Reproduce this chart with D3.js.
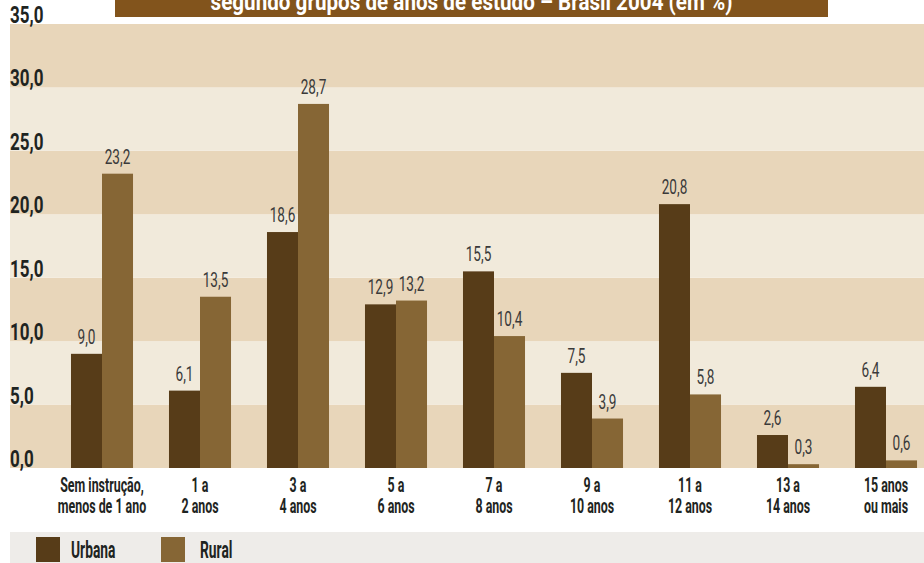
<!DOCTYPE html>
<html lang="pt">
<head>
<meta charset="utf-8">
<script src="https://cdn.jsdelivr.net/npm/d3@7"></script>
<style>
  html, body { margin: 0; padding: 0; background: #ffffff; }
  svg { display: block; font-family: Roboto, "Noto Sans", "DejaVu Sans", sans-serif; }
</style>
</head>
<body>
<svg id="chart" width="924" height="563"></svg>
<script>
// Anos de estudo: population share (%) by years of schooling, urban vs rural
const categories = [
  ["Sem instrução,", "menos de 1 ano"],
  ["1 a", "2 anos"],
  ["3 a", "4 anos"],
  ["5 a", "6 anos"],
  ["7 a", "8 anos"],
  ["9 a", "10 anos"],
  ["11 a", "12 anos"],
  ["13 a", "14 anos"],
  ["15 anos", "ou mais"]
];
const seriesNames = ["Urbana", "Rural"];
const urbana = [9.0, 6.1, 18.6, 12.9, 15.5, 7.5, 20.8, 2.6, 6.4];
const rural  = [23.2, 13.5, 28.7, 13.2, 10.4, 3.9, 5.8, 0.3, 0.6];
const yTicks = [0, 5, 10, 15, 20, 25, 30, 35];
const titleText = "segundo grupos de anos de estudo – Brasil 2004 (em %)";

const colors = { Urbana: "#573c18", Rural: "#866635" };
const bandDark = "#e8d6ba", bandLight = "#f1eadb";
const fmt = v => d3.format(".1f")(v).replace(".", ",");

const svg = d3.select("#chart");
const plotLeft = 10, plotRight = 924, plotTop = 24, plotBottom = 468;

const keys = categories.map(c => c.join(" "));
const rows = keys.map((k, i) => ({ key: k, lines: categories[i], Urbana: urbana[i], Rural: rural[i] }));

const y = d3.scaleLinear().domain([0, 35]).range([plotBottom, plotTop]);
const x0 = d3.scaleBand().domain(keys).range([53, 935]).paddingInner(0.367).paddingOuter(0.1835);
const x1 = d3.scaleBand().domain(seriesNames).range([0, x0.bandwidth()]);

// horizontally condensed text, anchored at (data-x, data-y)
function squeeze(sel, sx) {
  sel.attr("transform", function () {
    const t = d3.select(this);
    return `translate(${+t.attr("data-x")},${+t.attr("data-y")}) scale(${sx},1)`;
  });
}

// title strip (continuation line of the heading)
svg.append("rect").attr("x", 115).attr("y", 0).attr("width", 713).attr("height", 17).attr("fill", "#82541c");
svg.append("text")
  .attr("data-x", 471.5).attr("data-y", 10)
  .attr("text-anchor", "middle").attr("fill", "#ffffff")
  .attr("font-size", 24).attr("font-weight", 700)
  .text(titleText)
  .call(squeeze, 0.86);

// alternating horizontal bands
const bandData = d3.pairs(yTicks);
svg.append("g").selectAll("rect").data(bandData).join("rect")
  .attr("x", plotLeft).attr("width", plotRight - plotLeft)
  .attr("y", d => y(d[1])).attr("height", d => y(d[0]) - y(d[1]))
  .attr("fill", (d, i) => i % 2 === 0 ? bandDark : bandLight);

// y tick labels
svg.append("g").selectAll("text").data(yTicks).join("text")
  .attr("data-x", plotLeft).attr("data-y", d => y(d) - 1)
  .attr("fill", "#1e2421").attr("font-size", 23).attr("font-weight", 700)
  .text(fmt)
  .call(squeeze, 0.74);

// bars
const groups = svg.append("g").selectAll("g").data(rows).join("g")
  .attr("transform", d => `translate(${x0(d.key)},0)`);

groups.selectAll("rect").data(d => seriesNames.map(s => ({ s, v: d[s] }))).join("rect")
  .attr("x", d => x1(d.s)).attr("width", x1.bandwidth())
  .attr("y", d => y(d.v)).attr("height", d => y(0) - y(d.v))
  .attr("fill", d => colors[d.s]);

groups.selectAll("text.val").data(d => seriesNames.map(s => ({ s, v: d[s] }))).join("text")
  .attr("class", "val")
  .attr("data-x", d => x1(d.s) + x1.bandwidth() / 2).attr("data-y", d => y(d.v) - 10)
  .attr("text-anchor", "middle").attr("fill", "#3a3a3a")
  .attr("font-size", 20).attr("font-weight", 400)
  .text(d => fmt(d.v))
  .call(squeeze, 0.68);

// category labels, two lines each
const xl = svg.append("g").selectAll("g").data(rows).join("g");
xl.each(function (d) {
  const cx = x0(d.key) + x0.bandwidth() / 2;
  d3.select(this).selectAll("text").data(d.lines).join("text")
    .attr("data-x", cx).attr("data-y", (l, i) => 492 + i * 21)
    .attr("text-anchor", "middle").attr("fill", "#1e2421")
    .attr("font-size", 20).attr("font-weight", 700)
    .text(l => l)
    .call(squeeze, 0.62);
});

// legend
svg.append("rect").attr("x", 10).attr("y", 532).attr("width", 914).attr("height", 31).attr("fill", "#eeece9");
const legendX = [36, 161];
const lg = svg.append("g").selectAll("g").data(seriesNames).join("g")
  .attr("transform", (d, i) => `translate(${legendX[i]},537)`);
lg.append("rect").attr("width", 24).attr("height", 25).attr("fill", d => colors[d]);
lg.append("text")
  .attr("data-x", (d, i) => 35 + i * 4).attr("data-y", 21)
  .attr("fill", "#1e2421").attr("font-size", 23).attr("font-weight", 700)
  .text(d => d)
  .call(squeeze, 0.6);
</script>
</body>
</html>
